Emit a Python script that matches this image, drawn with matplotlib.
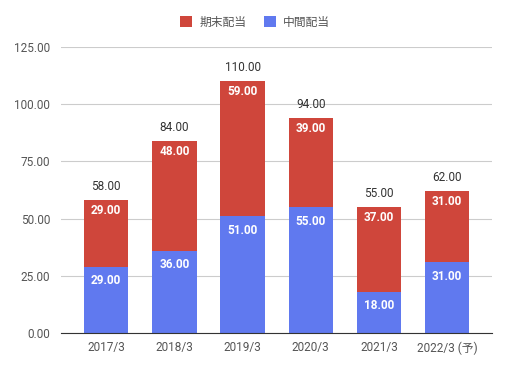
import matplotlib
matplotlib.use('Agg')
import matplotlib.pyplot as plt
import numpy as np

plt.rcParams['font.family'] = ['Roboto', 'Noto Sans CJK JP', 'DejaVu Sans']

# Data
years = ['2017/3', '2018/3', '2019/3', '2020/3', '2021/3', '2022/3 (予)']
interim = [29, 36, 51, 55, 18, 31]     # 中間配当
year_end = [29, 48, 59, 39, 37, 31]    # 期末配当
totals = [a + b for a, b in zip(interim, year_end)]

blue = '#6079ef'
red = '#cf463b'

fig = plt.figure(figsize=(5.1, 3.68), dpi=100)
ax = fig.add_axes([0.12, 0.095, 0.845, 0.777])

x = np.arange(len(years))
w = 0.65
ax.bar(x, interim, w, color=blue, label='中間配当', zorder=3)
ax.bar(x, year_end, w, bottom=interim, color=red, label='期末配当', zorder=3)

# Labels inside segments and totals above
for i in range(len(years)):
    ax.annotate(f'{interim[i]:.2f}', (x[i], interim[i]), xytext=(0, -10),
                textcoords='offset points', ha='center', va='center',
                color='white', fontsize=8.5, fontweight='bold', zorder=4)
    ax.annotate(f'{year_end[i]:.2f}', (x[i], totals[i]), xytext=(0, -7.5),
                textcoords='offset points', ha='center', va='center',
                color='white', fontsize=8.5, fontweight='bold', zorder=4)
    ax.annotate(f'{totals[i]:.2f}', (x[i], totals[i]), xytext=(0, 10),
                textcoords='offset points', ha='center', va='center',
                color='#333333', fontsize=8.5, zorder=4)

ax.set_xlim(-0.66, 5.66)
ax.set_ylim(0, 125)
ax.set_yticks(np.arange(0, 126, 25))
ax.set_yticklabels([f'{v:.2f}' for v in np.arange(0, 126, 25)])
ax.set_xticks(x)
ax.set_xticklabels(years)
ax.tick_params(length=0, labelsize=8.5, labelcolor='#555555')
ax.tick_params(axis='y', pad=8)
ax.tick_params(axis='x', pad=6)
ax.grid(axis='y', color='#cccccc', linewidth=0.8, zorder=0)
for s in ['top', 'right', 'left']:
    ax.spines[s].set_visible(False)
ax.spines['bottom'].set_color('#333333')
ax.spines['bottom'].set_zorder(5)

handles, labels = ax.get_legend_handles_labels()
fig.legend(handles[::-1], labels[::-1], loc='center', bbox_to_anchor=(0.5, 0.94),
           ncol=2, frameon=False, fontsize=8.5, handlelength=1, handleheight=1,
           columnspacing=1.5, handletextpad=0.6, labelcolor='#555555')

fig.savefig('out.png', dpi=100)
